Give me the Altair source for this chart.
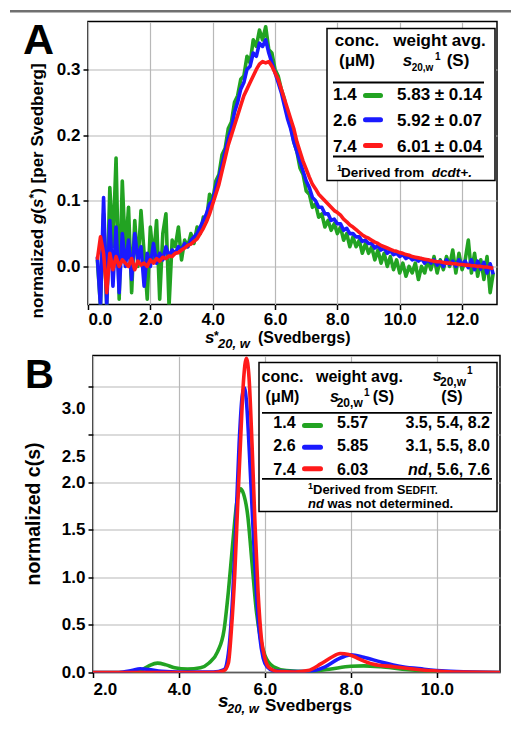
import altair as alt
import pandas as pd

# ---------------- Panel A data: normalized g(s*) vs s*20,w ----------------
g_green = [
    0.01, -0.06, 0.08, -0.06, 0.12, 0.03, 0.165, -0.05, 0.13, 0.02,
    0.09, -0.04, 0.07, 0.0, 0.085, 0.02, -0.05, 0.06, 0.01, 0.07,
    -0.05, 0.05, 0.08, -0.06, 0.04, 0.03, 0.06, 0.01, 0.04, 0.03,
    0.05, 0.035, 0.06, 0.05, 0.075, 0.07, 0.11, 0.10, 0.13, 0.14,
    0.17, 0.18, 0.21, 0.22, 0.25, 0.26, 0.285, 0.29, 0.32, 0.31,
    0.345, 0.335, 0.36, 0.345, 0.365, 0.33, 0.325, 0.30, 0.29, 0.27,
    0.255, 0.23, 0.215, 0.19, 0.175, 0.15, 0.14, 0.115, 0.11, 0.09,
    0.095, 0.075, 0.08, 0.06, 0.07, 0.055, 0.065, 0.05, 0.06, 0.04,
    0.05, 0.03, 0.045, 0.03, 0.04, 0.02, 0.035, 0.02, 0.03, 0.01,
    0.025, 0.005, 0.02, 0.0, 0.015, -0.005, 0.01, -0.01, 0.005, -0.015,
    0.0, -0.01, 0.005, -0.02, 0.0, -0.01, 0.01, -0.005, 0.015, -0.01,
    0.01, -0.005, 0.015, 0.0, 0.025, -0.01, 0.02, -0.005, 0.01, 0.04,
    -0.01, 0.02, -0.015, 0.01, -0.02, 0.015, -0.04, -0.01,
]
g_blue = [
    0.015, -0.06, 0.105, -0.06, 0.07, -0.03, 0.06, -0.04, 0.05, 0.0,
    0.04, -0.02, 0.05, 0.01, 0.03, -0.03, 0.02, 0.0, 0.035, 0.005,
    0.02, 0.01, 0.03, 0.015, 0.025, 0.02, 0.03, 0.025, 0.035, 0.03,
    0.04, 0.045, 0.05, 0.06, 0.07, 0.08, 0.095, 0.10, 0.12, 0.135,
    0.155, 0.175, 0.195, 0.21, 0.235, 0.25, 0.27, 0.28, 0.30, 0.305,
    0.325, 0.32, 0.34, 0.335, 0.345, 0.325, 0.31, 0.295, 0.28, 0.265,
    0.245, 0.225, 0.21, 0.19, 0.175, 0.16, 0.145, 0.13, 0.12, 0.105,
    0.10, 0.09, 0.09, 0.08, 0.08, 0.07, 0.072, 0.065, 0.065, 0.055,
    0.058, 0.05, 0.05, 0.045, 0.045, 0.038, 0.04, 0.035, 0.035, 0.028,
    0.032, 0.025, 0.028, 0.02, 0.024, 0.018, 0.02, 0.015, 0.018, 0.012,
    0.015, 0.01, 0.012, 0.008, 0.012, 0.005, 0.01, 0.005, 0.01, 0.002,
    0.008, 0.0, 0.01, 0.003, 0.008, 0.0, 0.01, 0.002, 0.008, -0.002,
    0.01, -0.005, 0.008, -0.004, 0.006, -0.01, 0.004, -0.012,
]
g_red = [
    0.01, 0.045, 0.02, -0.04, 0.02, -0.005, 0.015, 0.0, 0.01, 0.005,
    0.0, 0.012, -0.005, 0.008, 0.002, 0.005, 0.0, 0.01, 0.005, 0.012,
    0.008, 0.014, 0.012, 0.016, 0.015, 0.02, 0.021, 0.025, 0.028, 0.032,
    0.034, 0.038, 0.042, 0.05, 0.058, 0.068, 0.08, 0.095, 0.11, 0.125,
    0.145, 0.165, 0.185, 0.2, 0.215, 0.23, 0.245, 0.26, 0.27, 0.28,
    0.29, 0.3, 0.308, 0.312, 0.31, 0.312, 0.305, 0.295, 0.285, 0.27,
    0.255, 0.24, 0.225, 0.21, 0.19, 0.175, 0.16, 0.148, 0.136, 0.125,
    0.118, 0.11, 0.105, 0.1, 0.095, 0.09, 0.085, 0.082, 0.078, 0.072,
    0.068, 0.063, 0.06, 0.056, 0.052, 0.048, 0.045, 0.043, 0.04, 0.037,
    0.035, 0.032, 0.03, 0.028, 0.026, 0.024, 0.023, 0.021, 0.02, 0.018,
    0.017, 0.015, 0.014, 0.013, 0.012, 0.011, 0.01, 0.009, 0.008, 0.007,
    0.007, 0.006, 0.005, 0.005, 0.004, 0.004, 0.003, 0.003, 0.002, 0.002,
    0.001, 0.001, 0.0, 0.0, -0.001, -0.001, -0.002, -0.003,
]
s_A = [round(0.3 + 0.1 * i, 1) for i in range(len(g_green))]

# ---------------- Panel B data: normalized c(s) ----------------
s_B_green = [2.0, 2.8, 3.1, 3.3, 3.5, 3.7, 3.9, 4.2, 4.5, 4.7, 4.9, 5.05, 5.15, 5.25,
             5.35, 5.43, 5.5, 5.6, 5.7, 5.8, 5.9, 6.0, 6.2, 6.5, 7.0, 7.5, 8.0, 8.3,
             8.7, 9.2, 9.8, 10.5, 11.47]
c_green = [0, 0, 0.02, 0.07, 0.098, 0.08, 0.05, 0.035, 0.05, 0.1, 0.22, 0.45, 0.85, 1.35,
           1.8, 1.93, 1.88, 1.65, 1.15, 0.65, 0.35, 0.18, 0.06, 0.02, 0.01, 0.035, 0.065, 0.07,
           0.06, 0.035, 0.015, 0.003, 0]
s_B_blue = [2.0, 2.6, 2.9, 3.1, 3.3, 3.6, 4.0, 4.8, 5.05, 5.15, 5.25, 5.32, 5.4, 5.47, 5.52,
            5.57, 5.64, 5.72, 5.8, 5.88, 5.96, 6.05, 6.2, 6.5, 7.0, 7.4, 7.7, 8.0, 8.3, 8.7,
            9.2, 9.7, 10.2, 10.8, 11.47]
c_blue = [0, 0, 0.02, 0.04, 0.03, 0.012, 0.005, 0.005, 0.03, 0.2, 0.8, 1.5, 2.4, 2.9, 2.99,
          2.85, 2.3, 1.55, 0.85, 0.38, 0.15, 0.06, 0.02, 0.01, 0.01, 0.06, 0.14, 0.185, 0.16, 0.11,
          0.06, 0.035, 0.015, 0.004, 0]
s_B_red = [2.0, 4.8, 5.05, 5.15, 5.22, 5.3, 5.37, 5.44, 5.5, 5.57, 5.63, 5.7, 5.77, 5.84, 5.92,
           6.0, 6.1, 6.3, 6.7, 7.0, 7.3, 7.55, 7.75, 7.95, 8.2, 8.5, 9.0, 9.5, 10.0, 10.5, 11.47]
c_red = [0, 0, 0.02, 0.1, 0.45, 1.05, 1.8, 2.5, 3.05, 3.3, 3.1, 2.4, 1.55, 0.85, 0.35,
         0.15, 0.05, 0.01, 0.005, 0.02, 0.09, 0.16, 0.2, 0.19, 0.14, 0.09, 0.06, 0.035, 0.015, 0.004, 0]

# ---------------- Table contents ----------------
conc = ["1.4", "2.6", "7.4"]
colors = ["#22a322", "#1a1aff", "#ff1a1a"]
wavg_A = ["5.83 ± 0.14", "5.92 ± 0.07", "6.01 ± 0.04"]
wavg_B = ["5.57", "5.85", "6.03"]
peaks_B = ["3.5, 5.4, 8.2", "3.1, 5.5, 8.0", "nd, 5.6, 7.6"]

FONT = "Liberation Sans"


def one():
    return pd.DataFrame({"k": [0]})


def txt(text, x, y, size, italic=False, align="left", weight="bold", angle=0):
    return alt.Chart(one()).mark_text(
        text=text, align=align, baseline="alphabetic", font=FONT, fontSize=size,
        fontWeight=weight, fontStyle="italic" if italic else "normal", color="black",
        angle=angle
    ).encode(x=alt.value(x), y=alt.value(y))


def hline(x1, x2, y, color="black", width=1.8, cap="butt"):
    return alt.Chart(one()).mark_rule(color=color, strokeWidth=width, strokeCap=cap).encode(
        x=alt.value(x1), x2=alt.value(x2), y=alt.value(y))


def box(x1, x2, y1, y2):
    return alt.Chart(one()).mark_rect(fill="white", stroke="black", strokeWidth=1.5).encode(
        x=alt.value(x1), x2=alt.value(x2), y=alt.value(y1), y2=alt.value(y2))


# ---------------- Panel A ----------------
dfA = pd.DataFrame({"s": s_A, "g1": g_green, "g2": g_blue, "g3": g_red})
axAx = alt.Axis(values=[0, 2, 4, 6, 8, 10, 12], format=".1f", title="", labelPadding=2)
axAy = alt.Axis(values=[0, 0.1, 0.2, 0.3], format=".1f", title="")
xA = alt.Scale(domain=[0, 13.12], nice=False, zero=False)
yA = alt.Scale(domain=[-0.058, 0.373], nice=False, zero=False)

layersA = [hline(-78, 423, -10.3, color="#707070", width=2.5)]
for col, c in zip(["g1", "g2", "g3"], colors):
    layersA.append(
        alt.Chart(dfA).mark_line(color=c, strokeWidth=3.6, clip=True, strokeJoin="round").encode(
            x=alt.X("s:Q", scale=xA, axis=axAx),
            y=alt.Y(f"{col}:Q", scale=yA, axis=axAy)))

# rotated y title pieces (read bottom to top)
TY = -45
layersA += [
    txt("normalized", TY, 297, 17, angle=270),
    txt("g", TY, 202.6, 17, italic=True, angle=270),
    txt("(", TY, 192.2, 17, angle=270),
    txt("s", TY, 186.5, 17, italic=True, angle=270),
    txt("*", TY - 5, 177, 12, angle=270),
    txt(") [per Svedberg]", TY, 172.3, 17, angle=270),
]

layersA += [
    box(239, 407, 7, 159),
    txt("conc.", 269, 24, 17, align="center"),
    txt("weight avg.", 351.5, 24, 17, align="center"),
    txt("(μM)", 269, 44, 17, align="center"),
    txt("s", 314.7, 44, 17, italic=True),
    txt("20,w", 323.7, 49, 10),
    txt("1", 347, 38, 10),
    txt("(S)", 358.7, 44, 17),
    hline(245, 396, 61),
    hline(245, 396, 135),
    txt("1", 249, 149, 9),
    txt("Derived from", 253, 155, 13.5),
    txt("dcdt+.", 384, 155, 13.5, italic=True, align="right"),
    txt("A", -65, 32, 43),
    txt("s", 117, 321, 17, italic=True),
    txt("*", 126, 318.5, 12),
    txt("20, w", 130, 326.5, 13, italic=True),
    txt("(Svedbergs)", 170, 321.5, 16),
]
rowA_base = [78.5, 104.5, 130.5]
rowA_sw = [74, 98.3, 124]
for i in range(3):
    layersA += [
        txt(conc[i], 245, rowA_base[i], 17),
        hline(277.5, 292.5, rowA_sw[i], color=colors[i], width=5, cap="round"),
        txt(wavg_A[i], 309, rowA_base[i], 17),
    ]

panelA = alt.layer(*layersA).properties(width=409, height=283)

# ---------------- Panel B ----------------
axBx = alt.Axis(values=[2, 4, 6, 8, 10], format=".1f", title="", labelPadding=4)
axBy = alt.Axis(values=[0, 0.5, 1.0, 1.5, 2.0, 2.5, 3.0], format=".1f", title="",
                labelOffset={"condition": {"test": "datum.value >= 2.5", "value": 22}, "value": 0})
xB = alt.Scale(domain=[2, 11.47], nice=False, zero=False)
yB = alt.Scale(domain=[0, 3.33], nice=False, zero=False)

layersB = []
for ss, cc, c in [(s_B_green, c_green, colors[0]), (s_B_blue, c_blue, colors[1]),
                  (s_B_red, c_red, colors[2])]:
    d = pd.DataFrame({"s": ss, "c": cc})
    layersB.append(
        alt.Chart(d).mark_line(color=c, strokeWidth=3.6, clip=True, interpolate="monotone").encode(
            x=alt.X("s:Q", scale=xB, axis=axBx),
            y=alt.Y("c:Q", scale=yB, axis=axBy)))

layersB += [
    txt("normalized c(s)", -53, 158.5, 19.5, align="center", angle=270),
    box(166, 404, 7, 156),
    txt("conc.", 189.5, 26.7, 16, align="center"),
    txt("weight avg.", 266.5, 26.7, 16, align="center"),
    txt("(μM)", 189.5, 46.7, 16, align="center"),
    txt("s", 237, 46.7, 16, italic=True),
    txt("20,w", 243.7, 51.7, 12),
    txt("1", 271, 40.5, 10),
    txt("(S)", 279.7, 46.7, 16),
    txt("s", 339.7, 25, 16, italic=True),
    txt("20,w", 347, 30, 12),
    txt("1", 374, 18.3, 10),
    txt("(S)", 359, 46.7, 16, align="center"),
    hline(169, 399, 57.3),
    hline(169, 399, 123.3),
    txt("1", 215, 133, 9),
    txt("Derived from", 220, 138.3, 13),
    txt("S", 303.8, 138.3, 13),
    txt("EDFIT.", 312.5, 138.3, 10.5),
    txt("nd", 215, 152.3, 13, italic=True),
    txt("was not determined.", 234.5, 152.3, 13),
    txt("B", -68, 32, 40),
    txt("s", 125, 351, 19, italic=True),
    txt("20, w", 134, 357.5, 13, italic=True),
    txt("Svedbergs", 172, 355, 17),
]
rowB_base = [72.3, 95.7, 119.3]
rowB_sw = [70, 91.7, 113.3]
for i in range(3):
    layersB += [
        txt(conc[i], 180.3, rowB_base[i], 16),
        hline(211.5, 227.5, rowB_sw[i], color=colors[i], width=5, cap="round"),
        txt(wavg_B[i], 244, rowB_base[i], 16),
    ]
    p = peaks_B[i]
    if p.startswith("nd"):
        rest = p[2:]
        layersB.append(txt(rest, 397, rowB_base[i], 16, align="right"))
        layersB.append(txt("nd", 334.5, rowB_base[i], 16, italic=True, align="right"))
    else:
        layersB.append(txt(p, 397, rowB_base[i], 16, align="right"))

panelB = alt.layer(*layersB).properties(width=407, height=317)

spacer = alt.Chart(one()).mark_point(opacity=0).encode(
    x=alt.value(0), y=alt.value(0)).properties(
    width=5, height=317, view=alt.ViewBackground(stroke="transparent"))

rowB = alt.hconcat(spacer, panelB, spacing=0, bounds="flush")

chart = alt.vconcat(panelA, rowB, spacing=51, bounds="flush").properties(
    padding={"left": 0, "top": 0.5, "right": 0, "bottom": 0}
).configure_view(
    stroke="black", strokeWidth=1.5
).configure_axis(
    domain=False, grid=True, gridColor="#b8b8b8", gridWidth=1.2,
    ticks=True, tickColor="black", tickSize=5, tickWidth=1.5,
    labelFont=FONT, labelFontWeight="bold", labelFontSize=17, labelColor="black",
    labelPadding=3, titleFont=FONT, titleFontWeight="bold", titleColor="black"
)

chart.save("out.html", embed_options={"renderer": "svg", "actions": False})
